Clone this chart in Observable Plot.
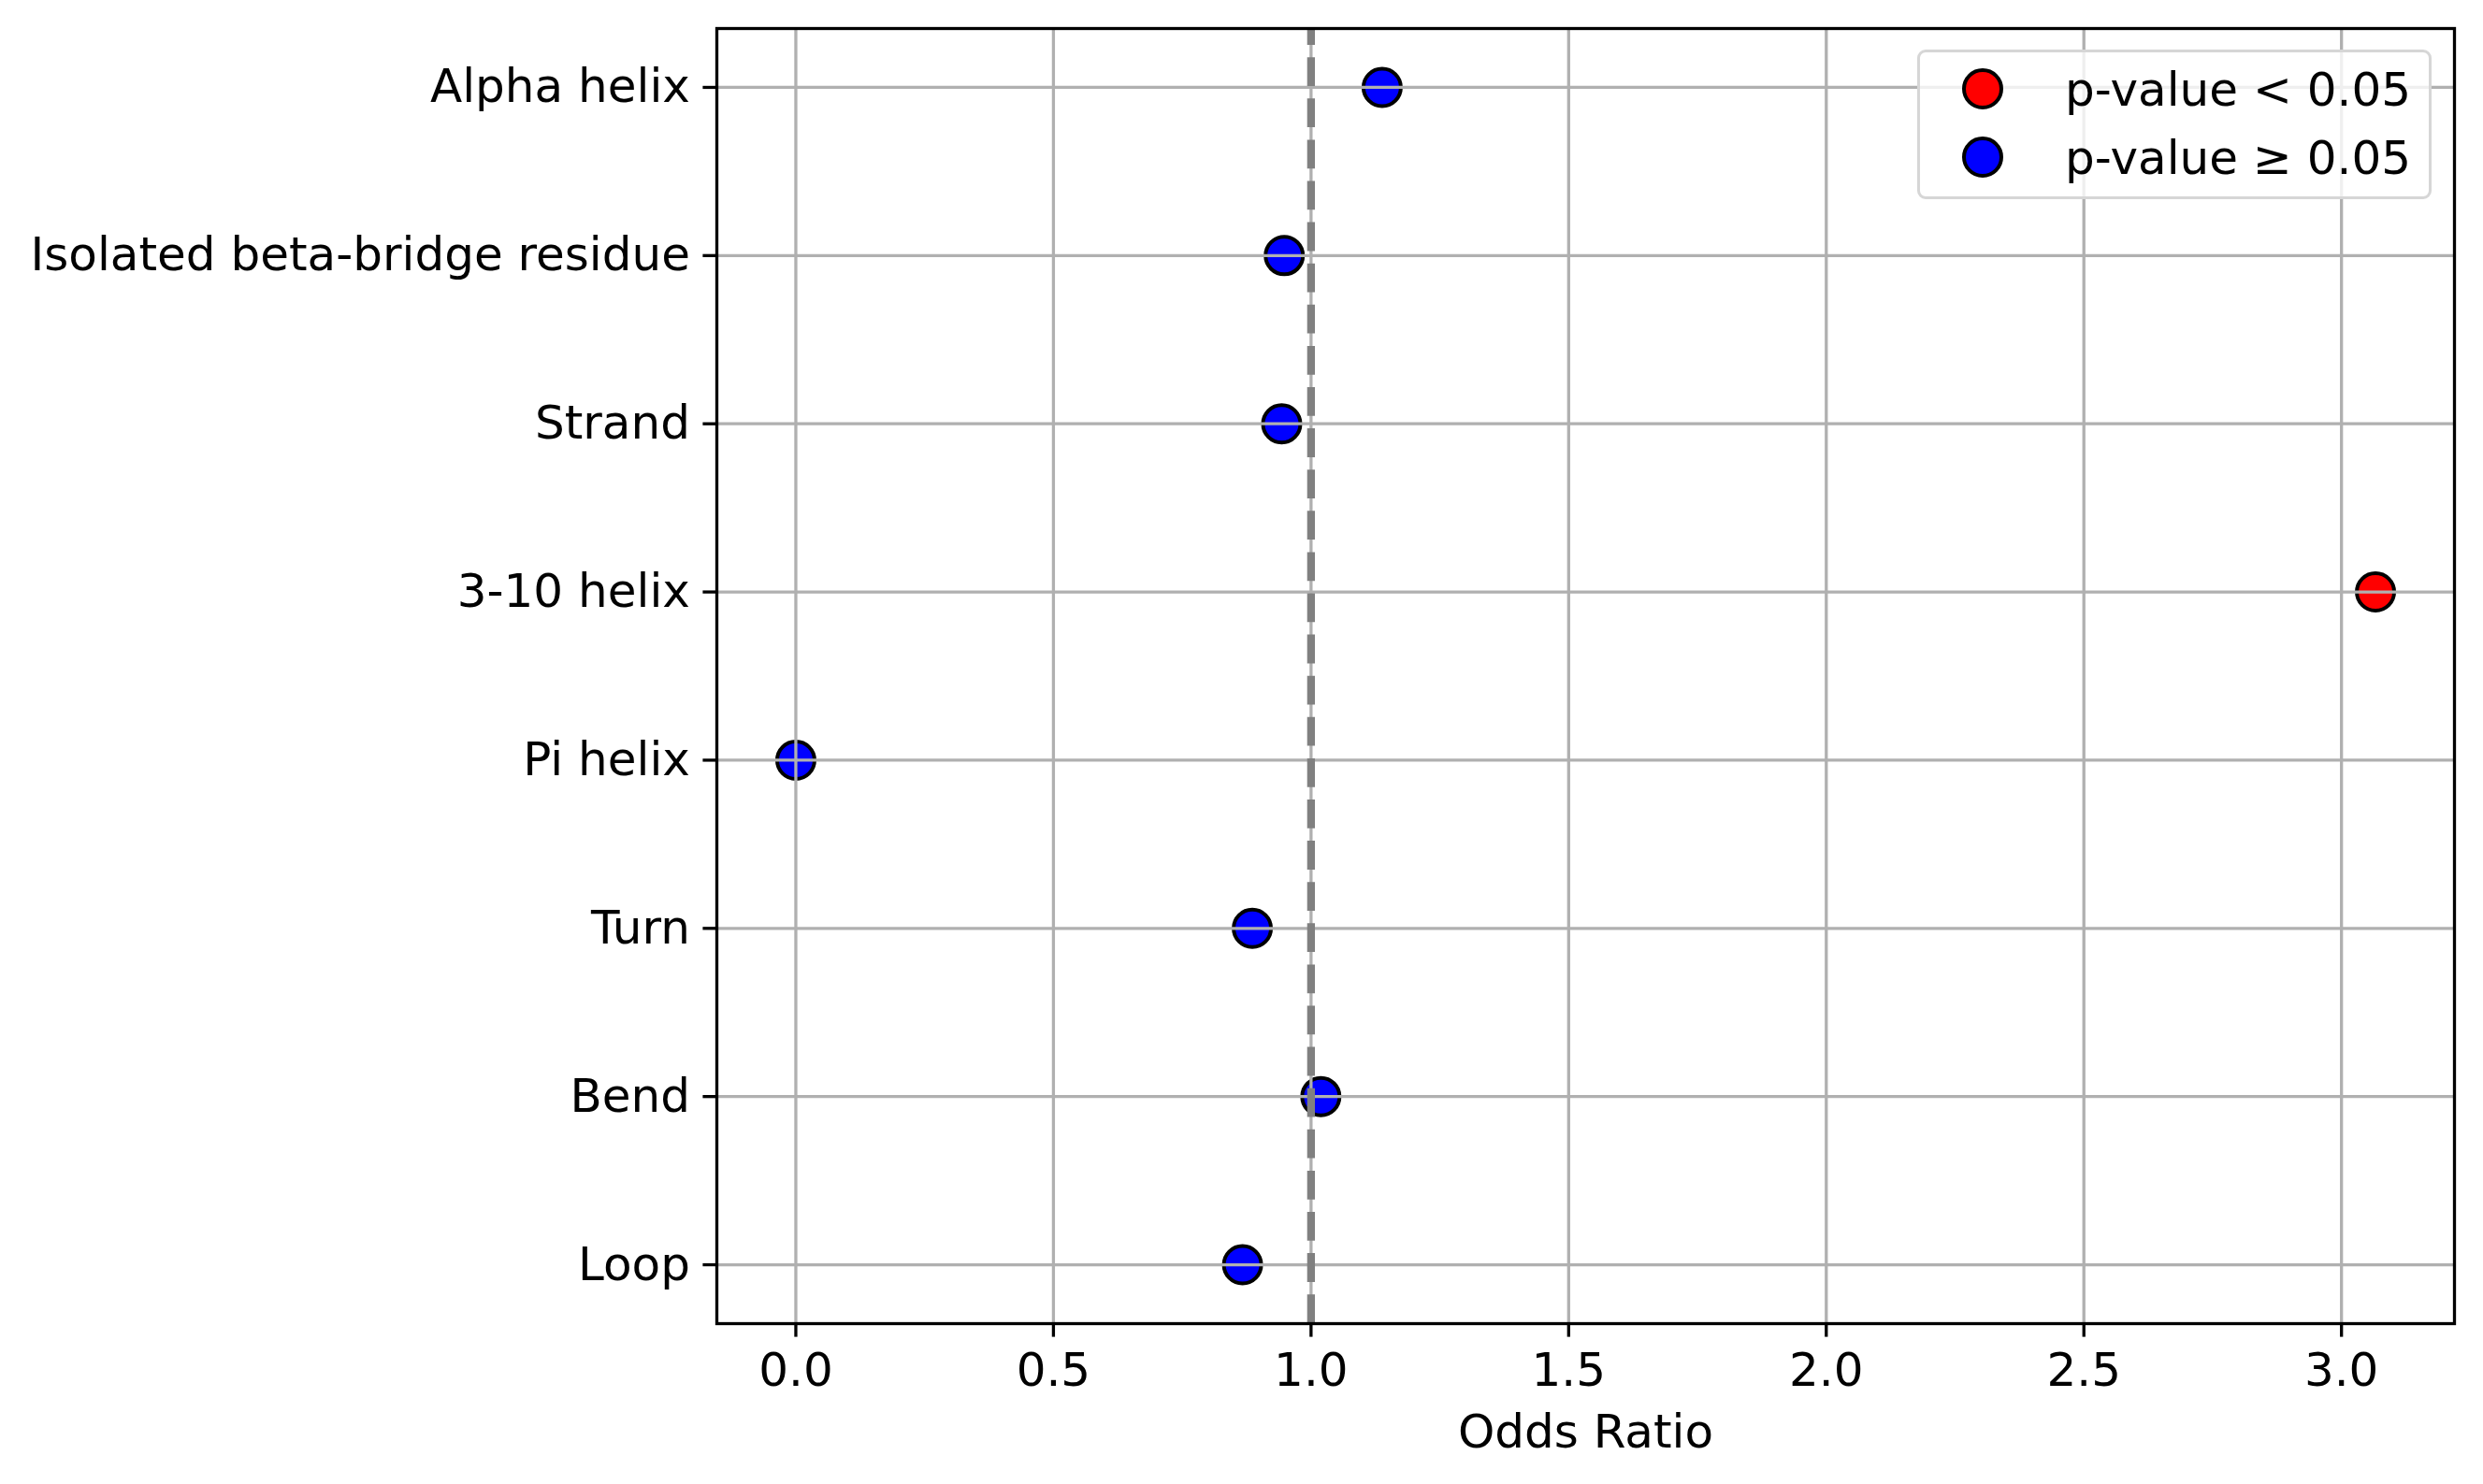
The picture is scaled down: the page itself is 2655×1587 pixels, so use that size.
<!DOCTYPE html>
<html>
<head>
<meta charset="utf-8">
<script src="https://cdn.jsdelivr.net/npm/d3@7"></script>
<script src="https://cdn.jsdelivr.net/npm/@observablehq/plot@0.6"></script>
<style>
  body { margin: 0; background: #fff; font-family: "DejaVu Sans", sans-serif; }
  #wrap { position: relative; width: 2655px; height: 1587px; }
  #legend {
    position: absolute; left: 2050px; top: 53px; width: 550px; height: 160px;
    box-sizing: border-box; border: 3.3px solid #d6d6d6; border-radius: 9px;
    background: rgba(255,255,255,0.8);
  }
  #legend svg { position: absolute; left: -3.3px; top: -3.3px; overflow: visible; }
</style>
</head>
<body>
<div id="wrap"></div>
<script>
// ---- data ----
const categories = ["Alpha helix", "Isolated beta-bridge residue", "Strand", "3-10 helix", "Pi helix", "Turn", "Bend", "Loop"];
const oddsRatios = [1.138, 0.948, 0.943, 3.066, 0.0, 0.886, 1.019, 0.867];
const significant = [false, false, false, true, false, false, false, false];
const xTicks = [0, 0.5, 1.0, 1.5, 2.0, 2.5, 3.0];
const legendLabels = ["p-value < 0.05", "p-value \u2265 0.05"];
const legendColors = ["#ff0000", "#0000ff"];
const referenceOR = [1];
const xLabel = "Odds Ratio";

const rows = categories.map((c, i) => ({ category: c, or: oddsRatios[i], sig: significant[i] }));

const W = 2655, H = 1587;
const mL = 766, mR = 31, mT = 30, mB = 172;
const [lo, hi] = d3.extent(oddsRatios);
const pad = (hi - lo) * 0.05;

// dashed reference line: matplotlib starts its dash pattern at the bottom
const dash = 30.8, gap = 13.3, period = dash + gap;
const L = H - mT - mB;
const dashOffset = ((dash - (L % period)) % period + period) % period;

const font = "DejaVu Sans";
const chart = Plot.plot({
  width: W, height: H,
  marginLeft: mL, marginRight: mR, marginTop: mT, marginBottom: mB,
  style: { fontFamily: font, fontSize: "50px", background: "white" },
  x: { domain: [lo - pad, hi + pad] },
  y: { type: "point", domain: categories, padding: 0.35, round: false },
  marks: [
    Plot.dot(rows, {
      x: "or", y: "category", r: 20,
      fill: d => d.sig ? legendColors[0] : legendColors[1],
      stroke: "black", strokeWidth: 4
    }),
    Plot.gridX(xTicks, { stroke: "#b0b0b0", strokeOpacity: 1, strokeWidth: 3.3 }),
    Plot.gridY(categories, { stroke: "#b0b0b0", strokeOpacity: 1, strokeWidth: 3.3 }),
    Plot.ruleX(referenceOR, {
      stroke: "#808080", strokeWidth: 8.3,
      strokeDasharray: `${dash},${gap}`, strokeDashoffset: dashOffset
    }),
    Plot.axisX(xTicks, {
      tickFormat: d3.format(".1f"), tickSize: 14.6, tickPadding: 16,
      strokeWidth: 3.3, fontSize: 50, label: null, fill: "black"
    }),
    Plot.axisY(categories, {
      tickSize: 14.6, tickPadding: 14, strokeWidth: 3.3, fontSize: 50,
      label: null, fill: "black"
    }),
    Plot.text([xLabel], {
      frameAnchor: "bottom", dy: 116, fontSize: 50, fill: "black", lineAnchor: "middle"
    }),
    Plot.frame({ stroke: "black", strokeWidth: 3.3 })
  ]
});

const wrap = document.getElementById("wrap");
wrap.appendChild(chart);

// legend (inside the axes, upper right)
const leg = document.createElement("div");
leg.id = "legend";
const ns = "http://www.w3.org/2000/svg";
const lsvg = document.createElementNS(ns, "svg");
lsvg.setAttribute("width", 550);
lsvg.setAttribute("height", 160);
legendLabels.forEach((lab, i) => {
  const cy = 42 + i * 73;
  const c = document.createElementNS(ns, "circle");
  c.setAttribute("cx", 70); c.setAttribute("cy", cy); c.setAttribute("r", 20);
  c.setAttribute("fill", legendColors[i]); c.setAttribute("stroke", "black"); c.setAttribute("stroke-width", 4);
  lsvg.appendChild(c);
  const t = document.createElementNS(ns, "text");
  t.setAttribute("x", 158); t.setAttribute("y", cy); t.setAttribute("dy", "0.35em");
  t.setAttribute("font-family", font); t.setAttribute("font-size", 50); t.setAttribute("fill", "black");
  t.textContent = lab;
  lsvg.appendChild(t);
});
leg.appendChild(lsvg);
wrap.appendChild(leg);
</script>
</body>
</html>
